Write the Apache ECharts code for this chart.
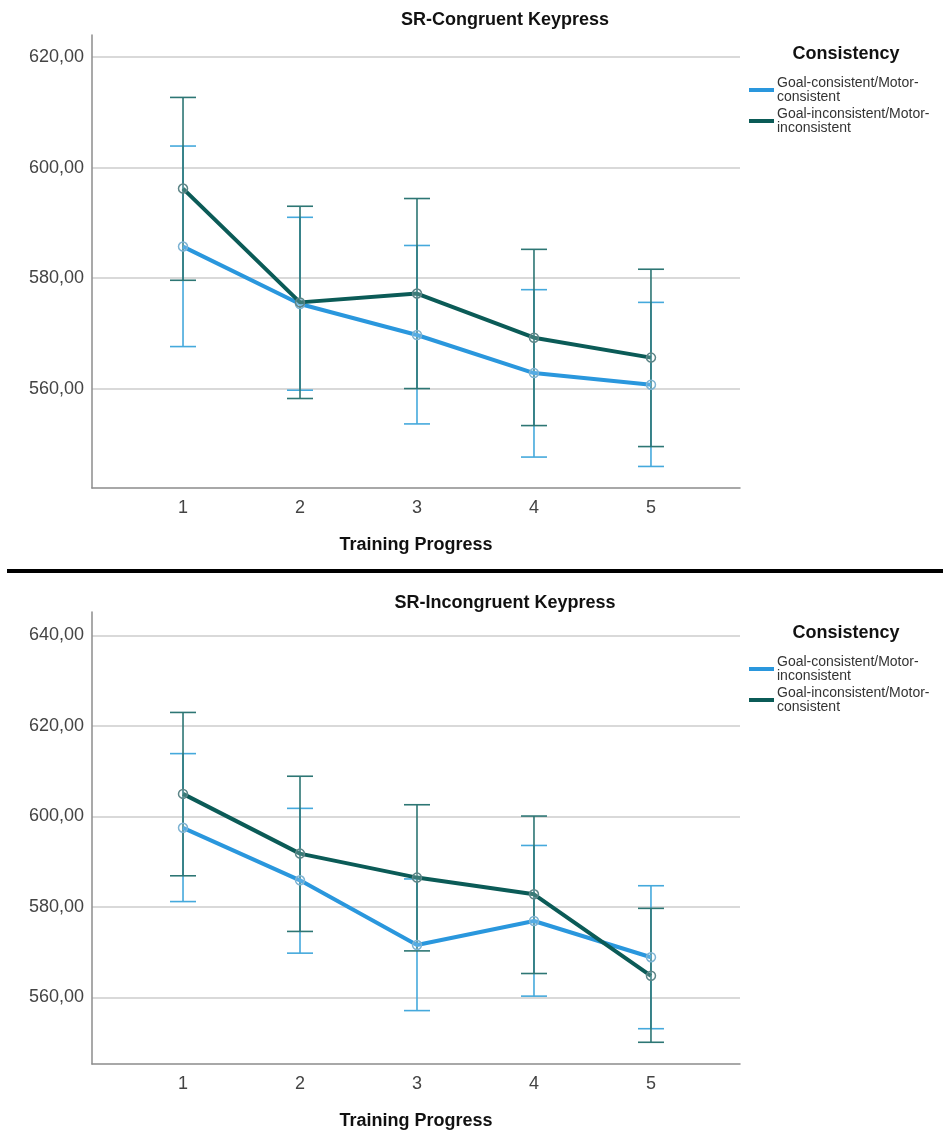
<!DOCTYPE html>
<html>
<head>
<meta charset="utf-8">
<script src="https://cdn.jsdelivr.net/npm/echarts@6/dist/echarts.min.js"></script>
<style>
  html, body { margin: 0; padding: 0; background: #fff; }
  #chart { width: 943px; height: 1131px; }
</style>
</head>
<body>
<div id="chart"></div>
<script>
// Training blocks on the x axis
const progress = [1, 2, 3, 4, 5];
const xTicks = [1, 2, 3, 4, 5];

// SR-Congruent Keypress: mean RT with 95% CI bounds
const congGcMcMean = [585.7, 575.3, 569.7, 562.8, 560.7];
const congGcMcLow  = [567.6, 559.7, 553.6, 547.6, 545.9];
const congGcMcHigh = [603.9, 591.0, 585.9, 577.9, 575.6];
const congGiMiMean = [596.2, 575.6, 577.2, 569.2, 565.6];
const congGiMiLow  = [579.6, 558.2, 560.0, 553.3, 549.5];
const congGiMiHigh = [612.7, 593.0, 594.4, 585.2, 581.6];
const congTicks = [560, 580, 600, 620];

// SR-Incongruent Keypress: mean RT with 95% CI bounds
const incGcMiMean = [597.5, 585.9, 571.6, 576.9, 568.9];
const incGcMiLow  = [581.2, 569.8, 557.1, 560.3, 553.1];
const incGcMiHigh = [613.9, 601.8, 586.2, 593.6, 584.7];
const incGiMcMean = [605.0, 591.8, 586.5, 582.8, 564.8];
const incGiMcLow  = [586.9, 574.6, 570.3, 565.3, 550.1];
const incGiMcHigh = [623.0, 608.9, 602.6, 600.1, 579.7];
const incTicks = [560, 580, 600, 620, 640];

const LIGHT = '#2a97dd';
const DARK = '#0b5b57';
const LIGHT_ERR = '#45a9dc';
const DARK_ERR = '#2d7674';
const LIGHT_MARK = '#7db3d3';
const DARK_MARK = '#5d8587';
const FONT = '"Liberation Sans", Arial, sans-serif';

const pairs = (xs, ys) => xs.map((x, i) => [x, ys[i]]);
const triples = (xs, lo, hi) => xs.map((x, i) => [x, lo[i], hi[i]]);

function errorBars(color) {
  return function (params, api) {
    const x = api.value(0);
    const lo = api.coord([x, api.value(1)]);
    const hi = api.coord([x, api.value(2)]);
    const hw = 13;
    const style = { stroke: color, lineWidth: 1.6 };
    return {
      type: 'group',
      children: [
        { type: 'line', shape: { x1: lo[0], y1: lo[1], x2: hi[0], y2: hi[1] }, style },
        { type: 'line', shape: { x1: lo[0] - hw, y1: lo[1], x2: lo[0] + hw, y2: lo[1] }, style },
        { type: 'line', shape: { x1: hi[0] - hw, y1: hi[1], x2: hi[0] + hw, y2: hi[1] }, style }
      ]
    };
  };
}

function xAxisFor(gridIndex) {
  return {
    gridIndex, type: 'value', min: 0.222, max: 5.761,
    name: 'Training Progress', nameLocation: 'middle', nameGap: 48,
    nameTextStyle: { fontFamily: FONT, fontSize: 18, fontWeight: 'bold', color: '#111' },
    axisLine: { show: true, lineStyle: { color: '#8c8c8c', width: 1.5 } },
    axisTick: { show: false, customValues: xTicks },
    axisLabel: { customValues: xTicks, fontFamily: FONT, fontSize: 18, color: '#444', margin: 11 },
    splitLine: { show: false }
  };
}

function yAxisFor(gridIndex, min, max, ticks) {
  return {
    gridIndex, type: 'value', min, max,
    axisLine: { show: true, lineStyle: { color: '#8c8c8c', width: 1.5 } },
    axisTick: { show: false, customValues: ticks },
    axisLabel: {
      customValues: ticks, fontFamily: FONT, fontSize: 18, color: '#444', margin: 8,
      formatter: v => v.toFixed(2).replace('.', ',')
    },
    splitLine: { show: true, lineStyle: { color: '#cdcdcd', width: 1.5 } }
  };
}

function lineSeries(name, data, color, markColor, gi, z) {
  return {
    name, type: 'line', data, xAxisIndex: gi, yAxisIndex: gi, z,
    color,
    lineStyle: { color, width: 4 },
    symbol: 'circle', symbolSize: 9,
    itemStyle: { color: 'rgba(255,255,255,0.2)', borderColor: markColor, borderWidth: 1.5 },
    emphasis: { disabled: true },
    animation: false
  };
}

function errSeries(data, color, gi, z) {
  return {
    type: 'custom', renderItem: errorBars(color), data,
    xAxisIndex: gi, yAxisIndex: gi, z,
    encode: { x: 0, y: [1, 2] }, silent: true, animation: false
  };
}

function legendFor(top, names, colors) {
  return {
    data: names.map((name, i) => ({ name, itemStyle: { color: colors[i], borderWidth: 0 } })),
    orient: 'vertical', left: 744, top,
    icon: 'rect', itemWidth: 25, itemHeight: 4, itemGap: 3,
    selectedMode: false,
    formatter: n => n.replace('Motor-', 'Motor-\n'),
    textStyle: { fontFamily: FONT, fontSize: 14, lineHeight: 14, color: '#333', padding: [0, 0, 0, -2] }
  };
}

const titleStyle = { fontFamily: FONT, fontSize: 18, fontWeight: 'bold', color: '#111' };
const legendTitleStyle = { fontFamily: FONT, fontSize: 18, fontWeight: 'bold', color: '#111' };

const option = {
  backgroundColor: '#fff',
  animation: false,
  title: [
    { text: 'SR-Congruent Keypress', left: 500, top: 6, textAlign: 'center', textStyle: titleStyle },
    { text: 'Consistency', left: 841, top: 40, textAlign: 'center', textStyle: legendTitleStyle },
    { text: 'SR-Incongruent Keypress', left: 500, top: 589, textAlign: 'center', textStyle: titleStyle },
    { text: 'Consistency', left: 841, top: 619, textAlign: 'center', textStyle: legendTitleStyle }
  ],
  legend: [
    legendFor(71, ['Goal-consistent/Motor-consistent', 'Goal-inconsistent/Motor-inconsistent'], [LIGHT, DARK]),
    legendFor(650, ['Goal-consistent/Motor-inconsistent', 'Goal-inconsistent/Motor-consistent'], [LIGHT, DARK])
  ],
  grid: [
    { left: 92, width: 648, top: 35, height: 453 },
    { left: 92, width: 648, top: 612, height: 454 }
  ],
  xAxis: [xAxisFor(0), xAxisFor(1)],
  yAxis: [
    yAxisFor(0, 542, 624, congTicks),
    yAxisFor(1, 545.3, 645.2, incTicks)
  ],
  graphic: [
    { type: 'rect', shape: { x: 7, y: 569, width: 936, height: 4 }, style: { fill: '#000' }, silent: true }
  ],
  series: [
    errSeries(triples(progress, congGcMcLow, congGcMcHigh), LIGHT_ERR, 0, 2),
    errSeries(triples(progress, congGiMiLow, congGiMiHigh), DARK_ERR, 0, 3),
    lineSeries('Goal-consistent/Motor-consistent', pairs(progress, congGcMcMean), LIGHT, LIGHT_MARK, 0, 4),
    lineSeries('Goal-inconsistent/Motor-inconsistent', pairs(progress, congGiMiMean), DARK, DARK_MARK, 0, 5),

    errSeries(triples(progress, incGcMiLow, incGcMiHigh), LIGHT_ERR, 1, 2),
    errSeries(triples(progress, incGiMcLow, incGiMcHigh), DARK_ERR, 1, 3),
    lineSeries('Goal-consistent/Motor-inconsistent', pairs(progress, incGcMiMean), LIGHT, LIGHT_MARK, 1, 4),
    lineSeries('Goal-inconsistent/Motor-consistent', pairs(progress, incGiMcMean), DARK, DARK_MARK, 1, 5)
  ]
};

const chart = echarts.init(document.getElementById('chart'), null, { renderer: 'canvas' });
chart.setOption(option);
</script>
</body>
</html>
